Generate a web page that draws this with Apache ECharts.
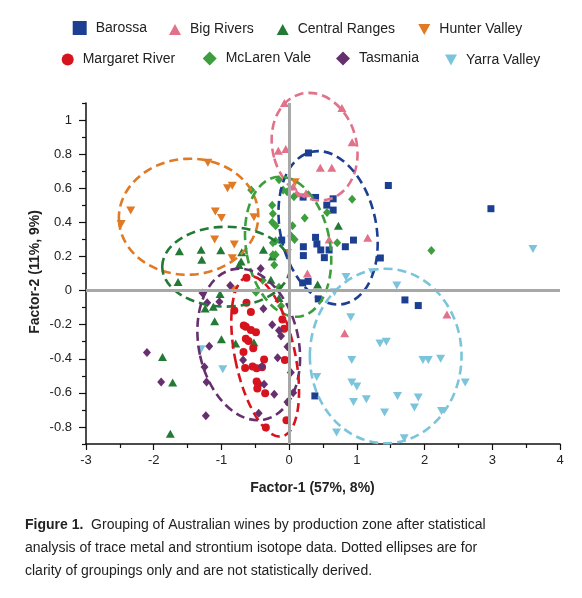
<!DOCTYPE html>
<html><head><meta charset="utf-8">
<script src="https://cdn.jsdelivr.net/npm/echarts@6/dist/echarts.min.js"></script>
<style>html,body{margin:0;padding:0;background:#fff}#c{width:582px;height:598px}</style>
</head><body><div id="c"></div><script>
// ---------- data ----------
const groups = ['Barossa','Big Rivers','Central Ranges','Hunter Valley','Margaret River','McLaren Vale','Tasmania','Yarra Valley'];
const barossa = [[0.285,0.807],[1.465,0.616],[2.98,0.48],[0.206,0.548],[0.39,0.546],[0.65,0.538],[0.556,0.501],[0.65,0.472],[-0.11,0.296],[0.39,0.312],[0.41,0.273],[0.95,0.296],[0.83,0.257],[0.21,0.257],[0.21,0.205],[0.467,0.238],[0.59,0.238],[0.52,0.193],[1.347,0.191],[0.2,0.045],[0.28,0.054],[0.43,-0.049],[1.71,-0.055],[1.907,-0.088],[0.38,-0.618]];
const bigRivers = [[-0.07,1.1],[0.78,1.07],[0.93,0.87],[-0.16,0.82],[-0.05,0.83],[0.46,0.72],[0.63,0.72],[0.06,0.61],[0.11,0.57],[0.25,0.57],[0.59,0.3],[1.16,0.31],[0.27,0.1],[2.33,-0.14],[0.82,-0.25]];
const centralRanges = [[-1.62,0.23],[-1.3,0.24],[-1.29,0.18],[-1.01,0.236],[-0.7,0.224],[-0.71,0.17],[-0.38,0.24],[-0.74,0.15],[-1.64,0.05],[-1.02,-0.02],[-1.24,-0.105],[-1.12,-0.095],[-1.1,-0.18],[-1.0,-0.285],[-0.79,-0.31],[-0.52,-0.305],[-1.87,-0.39],[-1.72,-0.54],[-1.755,-0.84],[-0.27,0.064],[-0.15,-0.043],[0.727,0.38],[-0.25,0.2],[0.42,0.035]];
const hunterValley = [[-1.2,0.75],[-0.91,0.6],[-0.84,0.614],[-2.34,0.47],[-2.48,0.39],[-1.09,0.464],[-1.0,0.425],[-0.52,0.43],[-1.1,0.3],[-0.81,0.27],[-0.84,0.19],[0.09,0.635],[-0.025,0.22],[-0.82,0.005]];
const margaretRiver = [[-0.63,0.075],[-0.63,-0.072],[-0.81,-0.117],[-0.565,-0.126],[-0.67,-0.205],[-0.64,-0.212],[-0.565,-0.232],[-0.49,-0.244],[-0.64,-0.282],[-0.6,-0.296],[-0.53,-0.339],[-0.674,-0.36],[-0.65,-0.454],[-0.54,-0.446],[-0.48,-0.456],[-0.4,-0.45],[-0.37,-0.404],[-0.063,-0.407],[-0.48,-0.534],[-0.457,-0.55],[-0.47,-0.575],[-0.354,-0.602],[-0.04,-0.76],[-0.344,-0.803],[-0.1,-0.17],[-0.074,-0.224]];
const mclarenVale = [[-0.15,0.65],[-0.09,0.59],[-0.03,0.58],[0.07,0.55],[-0.25,0.5],[-0.24,0.45],[-0.25,0.4],[-0.2,0.38],[0.05,0.38],[0.23,0.425],[0.56,0.458],[0.93,0.535],[-0.24,0.28],[-0.2,0.29],[0.03,0.32],[0.08,0.3],[0.71,0.28],[-0.24,0.21],[-0.2,0.21],[2.1,0.235],[-0.56,0.59],[-0.22,0.15],[-0.49,-0.01],[-0.15,0.02],[-0.12,-0.09],[-0.39,0.06]];
const tasmania = [[-0.87,0.03],[-0.42,0.13],[-1.28,-0.014],[-1.21,-0.072],[-1.03,-0.066],[-0.38,-0.107],[-0.25,-0.2],[-0.15,-0.234],[-0.12,-0.267],[-1.18,-0.326],[-2.1,-0.364],[-0.68,-0.407],[-0.4,-0.446],[-0.17,-0.394],[-0.025,-0.33],[0.025,-0.48],[-1.25,-0.448],[-1.22,-0.536],[-1.89,-0.536],[-0.37,-0.55],[-0.22,-0.608],[0.06,-0.6],[-0.025,-0.653],[-0.45,-0.72],[-1.23,-0.735]];
const yarraValley = [[0.84,0.08],[1.23,0.107],[1.59,0.03],[0.67,-0.01],[0.91,-0.157],[1.34,-0.31],[1.435,-0.3],[0.925,-0.407],[1.976,-0.407],[2.055,-0.407],[2.237,-0.4],[0.408,-0.507],[0.925,-0.54],[1.0,-0.563],[2.6,-0.54],[1.6,-0.618],[1.907,-0.628],[0.95,-0.653],[1.14,-0.637],[1.85,-0.686],[2.25,-0.706],[1.41,-0.715],[0.7,-0.832],[1.7,-0.867],[3.6,0.244],[-1.3,-0.345],[-0.98,-0.462]];

// ellipses (data units): group index, centre x, centre y, semi-axis x, semi-axis y, rotation deg (ccw)
const ellipseGroup = [1, 0, 3, 2, 5, 6, 4, 7];
const ellipseCx    = [0.376, 0.575, -1.485, -0.93, -0.015, -0.597, -0.354, 1.426];
const ellipseCy    = [0.844, 0.368, 0.433, 0.14, 0.257, -0.316, -0.386, -0.384];
const ellipseRx    = [0.62, 0.708, 1.03, 0.944, 0.62, 0.737, 0.442, 1.12];
const ellipseRy    = [0.32, 0.456, 0.34, 0.234, 0.415, 0.45, 0.48, 0.512];
const ellipseRot   = [15, 12, 3, 0, 10, 12, 12, 0];

const yLabelValues = [-0.8,-0.6,-0.4,-0.2,0,0.2,0.4,0.6,0.8,1];
const yMinorValues = [-0.9,-0.7,-0.5,-0.3,-0.1,0.1,0.3,0.5,0.7,0.9,1.1];

// ---------- style ----------
const colors = ['#1d3f92','#e2728a','#237a35','#e07a24','#d7141e','#3c9e3c','#66306f','#7cc4dc'];
const invTri = 'path://M0,0L12,0L6,11Z';
const symbols = ['rect','triangle','triangle',invTri,'circle','diamond','diamond',invTri];
const symbolSizes = [7,[9,8],[9,8],[9,8],8,[8,9],[8,9],[9,8]];
const seriesData = [barossa,bigRivers,centralRanges,hunterValley,margaretRiver,mclarenVale,tasmania,yarraValley];
const FONT = '"Liberation Sans", Arial, sans-serif';

const legendPos = [
  {left:72.7, top:21, w:14, h:14},
  {left:169, top:22.5, w:12, h:11},
  {left:276.7, top:22.5, w:12, h:11},
  {left:418.3, top:22.5, w:12, h:11},
  {left:61.7, top:52.5, w:12, h:12},
  {left:202.7, top:51.5, w:14, h:14},
  {left:336, top:51.5, w:14, h:14},
  {left:445, top:53, w:12, h:11}
];

const legends = groups.map((g,i)=>({
  data:[{name:g, icon:symbols[i]}],
  left:legendPos[i].left, top:legendPos[i].top,
  itemWidth:legendPos[i].w, itemHeight:legendPos[i].h,
  selectedMode:false, padding:0,
  textStyle:{fontSize:14, color:'#222', fontFamily:FONT, padding:[0,0,0,4]}
}));

const scatterSeries = groups.map((g,i)=>({
  name:g, type:'scatter', data:seriesData[i],
  symbol:symbols[i], symbolSize:symbolSizes[i],
  itemStyle:{color:colors[i], opacity:1},
  z:3, silent:true
}));

const ellipseData = ellipseGroup.map((g,i)=>[ellipseCx[i],ellipseCy[i],ellipseRx[i],ellipseRy[i],ellipseRot[i],g]);

const chart = echarts.init(document.getElementById('c'), null, {renderer:'canvas'});
chart.setOption({
  animation:false,
  backgroundColor:'#fff',
  legend:legends,
  grid:{left:86, right:22, top:103, bottom:154, containLabel:false},
  xAxis:[{
    type:'value', min:-3, max:4, interval:1,
    axisLine:{show:true, onZero:false, lineStyle:{color:'#111', width:1.5}},
    axisTick:{show:true, length:6, lineStyle:{color:'#111', width:1.2}},
    minorTick:{show:true, splitNumber:2, length:4, lineStyle:{color:'#111', width:1.2}},
    axisLabel:{fontSize:13, color:'#222', fontFamily:FONT, margin:10},
    splitLine:{show:false}
  }],
  yAxis:[{
    type:'value', min:-0.9, max:1.1, position:'left', offset:0,
    axisLine:{show:true, onZero:false, lineStyle:{color:'#111', width:1.5}},
    axisTick:{show:true, length:7, customValues:yLabelValues, lineStyle:{color:'#111', width:1.2}},
    axisLabel:{fontSize:13, color:'#222', fontFamily:FONT, margin:14, customValues:yLabelValues},
    splitLine:{show:false}
  },{
    type:'value', min:-0.9, max:1.1, position:'left', offset:0,
    axisLine:{show:false, onZero:false},
    axisTick:{show:true, length:4, customValues:yMinorValues, lineStyle:{color:'#111', width:1.2}},
    axisLabel:{show:false},
    splitLine:{show:false}
  }],
  series:[
    {name:'zero', type:'scatter', data:[], z:1, silent:true,
     markLine:{silent:true, symbol:['none','none'], label:{show:false}, animation:false,
       lineStyle:{color:'#a8a8a8', width:3, type:'solid'},
       emphasis:{disabled:true},
       data:[{xAxis:0},{yAxis:0}]}}
  ].concat(scatterSeries).concat([{
    name:'ellipses', type:'custom', data:ellipseData, z:4, silent:true, clip:false,
    encode:{x:0, y:1},
    renderItem:function(params, api){
      const c = api.coord([api.value(0), api.value(1)]);
      const s = api.size([api.value(2), api.value(3)]);
      return {
        type:'ellipse',
        x:c[0], y:c[1],
        rotation: api.value(4)*Math.PI/180,
        shape:{cx:0, cy:0, rx:s[0], ry:s[1]},
        style:{fill:'none', stroke:colors[api.value(5)], lineWidth:2.6, lineDash:[9,5]}
      };
    }
  }]),
  graphic:[
    {type:'text', silent:true, x:312.5, y:488,
     style:{text:'Factor-1 (57%, 8%)', x:0, y:0, align:'center', verticalAlign:'middle',
       fontSize:14, fontWeight:'bold', fontFamily:FONT, fill:'#222'}},
    {type:'text', silent:true, x:35, y:272, rotation:Math.PI/2,
     style:{text:'Factor-2 (11%, 9%)', x:0, y:0, align:'center', verticalAlign:'middle',
       fontSize:14, fontWeight:'bold', fontFamily:FONT, fill:'#222'}},
    {type:'text', silent:true, x:25, y:514,
     style:{text:'{b|Figure 1.}  Grouping of Australian wines by production zone after statistical\nanalysis of trace metal and strontium isotope data. Dotted ellipses are for\nclarity of groupings only and are not statistically derived.',
       fontSize:14, fontFamily:FONT, fill:'#222', lineHeight:23,
       rich:{b:{fontWeight:'bold', fontSize:14, fontFamily:FONT, fill:'#222', lineHeight:23}}}}
  ]
});
</script></body></html>
